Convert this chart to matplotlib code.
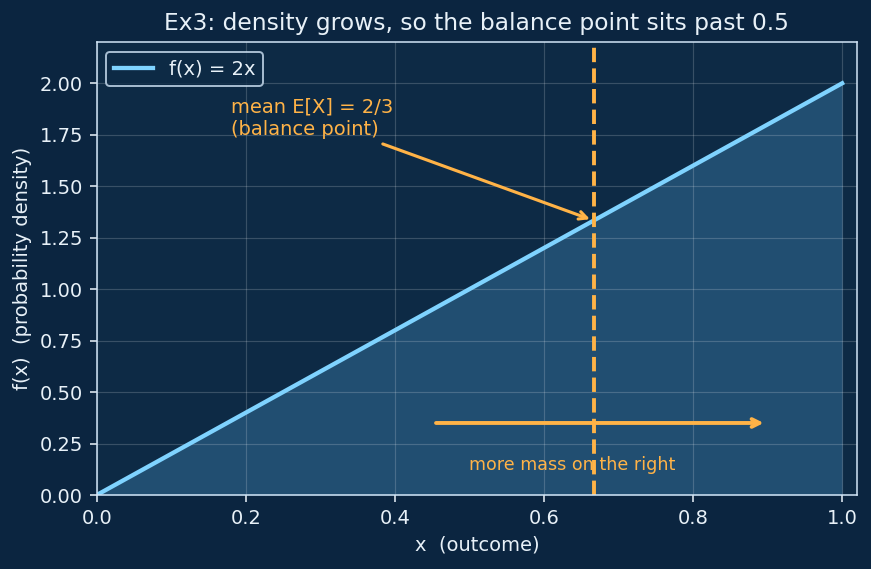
import numpy as np
import matplotlib.pyplot as plt

x_vals = np.linspace(0, 1, 201)
density = 2 * x_vals
mean_x = 2 / 3
xlim_max = 1.02
ylim_max = 2.2

BG = '#0b2540'
AX_BG = '#0d2a45'
LINE = '#7fd3ff'
ORANGE = '#ffb347'
FG = '#e8f1f8'

fig, ax = plt.subplots(figsize=(871/140, 569/140), dpi=140)
fig.patch.set_facecolor(BG)
ax.set_facecolor(AX_BG)

ax.fill_between(x_vals, 0, density, color='#3a7aa8', alpha=0.45, lw=0)
ax.plot(x_vals, density, color=LINE, lw=2.2, label='f(x) = 2x')
ax.axvline(mean_x, color=ORANGE, lw=2, ls='--')

ax.annotate('mean E[X] = 2/3\n(balance point)', xy=(mean_x, 2 * mean_x),
            xytext=(0.18, 1.75), color=ORANGE, fontsize=10,
            arrowprops=dict(arrowstyle='->', color=ORANGE, lw=1.6))
ax.annotate('', xy=(0.9, 0.35), xytext=(0.45, 0.35),
            arrowprops=dict(arrowstyle='->', color=ORANGE, lw=2))
ax.text(0.5, 0.12, 'more mass on the right', color=ORANGE, fontsize=9)

ax.set_xlim(0, xlim_max)
ax.set_ylim(0, ylim_max)
ax.set_yticks(np.arange(0, 2.01, 0.25))
ax.grid(True, color='white', alpha=0.18, lw=0.6)
ax.set_title('Ex3: density grows, so the balance point sits past 0.5', color=FG, fontsize=12)
ax.set_xlabel('x  (outcome)', color=FG)
ax.set_ylabel('f(x)  (probability density)', color=FG)
ax.tick_params(colors=FG)
for s in ax.spines.values():
    s.set_color('#cfe3f5')

leg = ax.legend(loc='upper left', facecolor=AX_BG, edgecolor='#cfe3f5', labelcolor=FG)

fig.subplots_adjust(left=0.111, right=0.984, top=0.926, bottom=0.130)
fig.savefig('out.png', facecolor=BG)
